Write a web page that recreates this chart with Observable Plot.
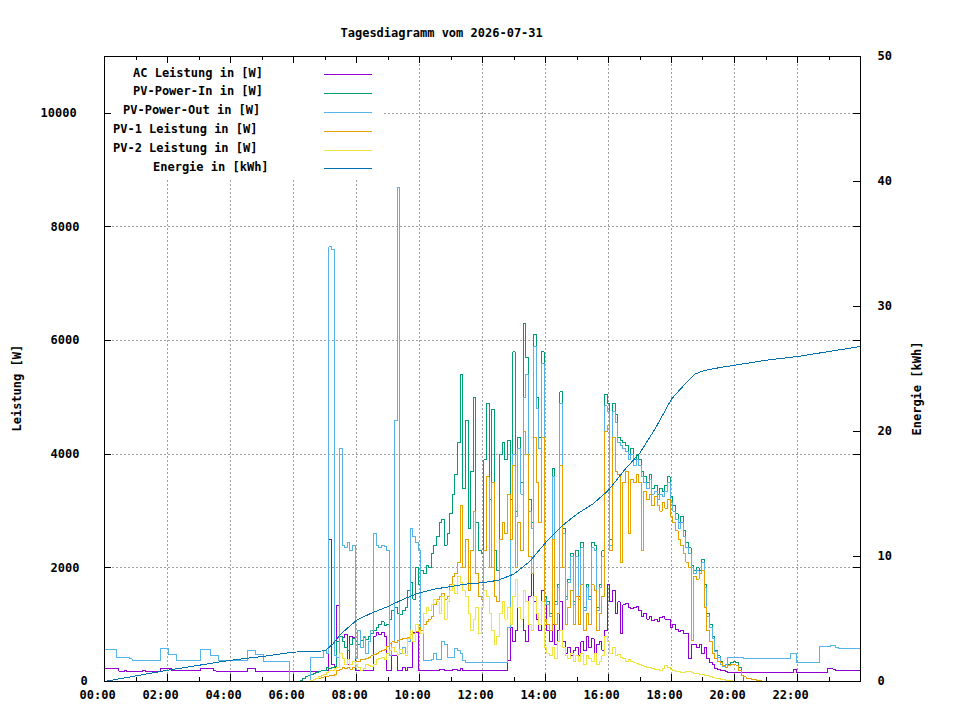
<!DOCTYPE html>
<html><head><meta charset="utf-8">
<script src="https://cdn.jsdelivr.net/npm/d3@7"></script>
<script src="https://cdn.jsdelivr.net/npm/@observablehq/plot@0.6"></script>
<style>body{margin:0;background:#fff;}</style>
</head><body><div id="chart"></div>
<script>
const chartTitle = "Tagesdiagramm vom 2026-07-31";
const leftLabel = "Leistung [W]";
const rightLabel = "Energie [kWh]";
const seriesNames = ["AC Leistung in [W]", "PV-Power-In in [W]", "PV-Power-Out in [W]", "PV-1 Leistung in [W]", "PV-2 Leistung in [W]", "Energie in [kWh]"];
const seriesColors = ["#9400d3", "#009e73", "#56b4e9", "#e69f00", "#f0e442", "#0072b2"];
const stepMinutes = 5;

// one row per hour, 12 samples (every 5 minutes) + final value at 24:00
const acPower = [
230,230,230,230,230,230,180,180,190,180,180,180,
180,180,180,190,180,180,180,180,180,180,230,230,
230,230,200,190,190,190,190,190,190,190,190,190,
190,230,230,230,230,230,190,180,180,180,180,180,
180,180,180,180,180,180,180,230,230,230,180,180,
180,180,180,180,180,180,180,180,180,180,180,180,
180,180,180,180,180,180,180,180,180,180,180,190,
190,190,2500,300,250,1340,800,780,820,300,800,780,
200,190,190,200,190,190,200,800,860,830,860,800,
190,190,450,450,200,190,250,190,250,250,860,860,
190,190,190,190,190,190,190,190,220,220,190,190,
190,220,220,190,230,190,190,190,190,190,190,190,
190,190,190,190,190,190,190,190,190,190,370,950,
700,900,1300,1100,900,700,1500,1900,1400,1100,900,1600,
1500,900,700,1000,650,900,1400,700,500,600,450,550,
600,450,700,550,800,600,750,500,650,700,550,900,
1700,1400,1600,1200,1400,850,1350,1370,1300,1280,1300,1320,
1250,1150,1200,1100,1150,1080,1100,1050,1120,1150,1100,1100,
950,1000,920,880,900,850,850,400,650,660,600,660,
500,600,400,330,300,230,220,200,190,180,160,160,
160,160,160,160,160,160,160,160,160,160,160,160,
160,160,160,160,160,160,160,160,160,160,160,210,
160,160,160,160,160,160,160,160,160,160,160,160,
230,230,220,200,200,200,200,200,200,200,200,200,
200];

const pvIn = [
0,0,0,0,0,0,0,0,0,0,0,0,
0,0,0,0,0,0,0,0,0,0,0,0,
0,0,0,0,0,0,0,0,0,0,0,0,
0,0,0,0,0,0,0,0,0,0,0,0,
0,0,0,0,0,0,0,0,0,0,0,0,
0,0,0,0,0,0,0,0,0,0,0,0,
0,0,0,20,50,80,100,120,140,160,180,190,
200,250,230,250,260,700,800,700,600,550,650,750,
700,650,720,780,740,800,850,900,950,1000,1050,980,
1000,1100,1250,1300,1200,1180,1250,1300,1600,1750,1450,2000,
1700,1950,1900,2050,2000,2250,2400,2550,2800,2850,2400,2600,
2950,3300,3650,4200,5400,3400,4600,2700,3700,5000,2800,2300,
2250,3900,4900,3200,4780,2300,1950,4000,4200,3900,4250,3200,
5800,3000,4300,3500,6300,5700,3200,2800,6100,5000,4300,5800,
1500,1400,1200,3750,1400,1700,5100,2700,1500,1800,2250,1400,
2300,1500,2450,1300,1700,1500,2450,2400,1300,1700,2300,5050,
4900,2500,4900,4700,4300,4250,4200,4150,4000,4100,3900,4000,
3900,3700,3600,3500,3650,3400,3450,3300,3400,3350,3450,3600,
3250,3100,2950,2800,2900,2650,2450,2350,2050,1950,2000,1950,
2150,1700,1200,1000,800,550,450,350,280,250,300,330,
350,340,250,100,0,0,0,0,0,0,0,0,
0,0,0,0,0,0,0,0,0,0,0,0,
0,0,0,0,0,0,0,0,0,0,0,0,
0,0,0,0,0,0,0,0,0,0,0,0,
0];

const pvOut = [
560,560,560,560,560,430,430,430,430,420,400,370,
370,370,370,370,370,370,370,370,370,370,580,580,
580,470,470,470,370,370,370,370,370,370,370,370,
370,560,560,560,560,460,460,460,370,370,370,370,
370,370,370,370,370,370,370,550,550,550,470,470,
470,350,350,350,350,350,350,350,350,350,350,0,
0,0,0,0,0,0,0,420,420,420,420,420,
550,500,7650,7600,450,420,4100,2400,2350,2450,2300,2400,
400,900,600,800,500,700,900,2600,2400,2350,2400,2380,
2300,450,700,4600,8700,500,600,450,700,2700,2550,2450,
2300,900,370,370,370,380,490,380,380,700,650,420,
420,420,580,540,490,370,340,340,340,340,340,340,
340,340,340,340,340,340,340,340,340,340,950,2500,
4000,2900,4100,3300,5000,5400,3000,2700,5900,4800,4100,5600,
1450,1350,1150,3600,1350,1650,4900,2600,1450,1750,2200,1350,
2200,1450,2350,1250,1650,1450,2350,2300,1250,1650,2200,4850,
4750,2400,4750,4550,4200,4150,4100,4050,3900,4000,3800,3900,
3800,3600,3500,3400,3550,3300,3350,3200,3300,3250,3350,3500,
3150,3000,2850,2700,2800,2550,2350,2250,2000,1900,1950,1900,
2100,1650,1150,950,750,520,430,300,260,300,420,420,
430,430,420,420,410,410,410,410,410,410,410,410,
400,400,400,400,400,400,400,400,400,400,490,490,
340,340,340,340,340,340,340,340,340,610,610,610,
610,640,640,600,580,580,580,580,580,580,580,580,
580];

const pv1 = [
0,0,0,0,0,0,0,0,0,0,0,0,
0,0,0,0,0,0,0,0,0,0,0,0,
0,0,0,0,0,0,0,0,0,0,0,0,
0,0,0,0,0,0,0,0,0,0,0,0,
0,0,0,0,0,0,0,0,0,0,0,0,
0,0,0,0,0,0,0,0,0,0,0,0,
0,0,0,0,0,0,0,20,40,50,60,70,
80,90,100,110,120,190,220,250,230,240,220,250,
350,360,380,390,400,420,450,480,500,520,540,560,
620,670,700,680,720,740,760,750,780,820,850,880,
950,900,1000,1050,1100,1150,1350,1450,1500,1550,1450,1500,
1700,1850,1900,2100,3100,2000,2500,1600,2300,3000,1900,1500,
1450,2300,3600,2000,3500,1500,1400,2500,2800,2600,3300,2500,
3800,2000,2800,2300,4400,4000,2200,1900,4300,3500,2800,4300,
1100,1000,900,2500,1000,1200,3800,2000,1000,1300,1600,1000,
1500,1000,1700,900,1200,1000,1700,1600,900,1200,1500,4400,
4500,2300,4300,3700,3650,2100,3500,3700,2600,3550,3500,3650,
3500,2300,3350,3200,3300,3100,3250,3100,3000,3150,3050,3200,
2900,2800,2650,2500,2400,2250,2100,2000,720,1850,1800,1900,
1950,1300,900,700,500,400,350,330,280,250,280,300,
300,290,200,100,80,60,50,40,30,20,10,0,
0,0,0,0,0,0,0,0,0,0,0,0,
0,0,0,0,0,0,0,0,0,0,0,0,
0,0,0,0,0,0,0,0,0,0,0,0,
0];

const pv2 = [
0,0,0,0,0,0,0,0,0,0,0,0,
0,0,0,0,0,0,0,0,0,0,0,0,
0,0,0,0,0,0,0,0,0,0,0,0,
0,0,0,0,0,0,0,0,0,0,0,0,
0,0,0,0,0,0,0,0,0,0,0,0,
0,0,0,0,0,0,0,0,0,0,0,0,
0,0,0,0,0,0,0,20,40,60,80,100,
120,150,190,200,230,250,500,400,300,380,300,350,
300,250,200,230,300,280,260,300,380,400,420,380,
500,550,600,520,480,560,500,450,750,900,700,1000,
900,850,1200,1300,1250,1350,1450,1400,1200,1500,1100,1400,
1600,1700,1550,1850,1750,1600,1500,1200,900,1100,1300,850,
1300,1600,1500,1200,900,650,800,1200,1400,1100,1300,1000,
1500,1800,1300,1100,1600,1400,1000,900,1500,1200,1000,1400,
600,500,450,600,400,700,900,600,450,400,500,350,
450,350,500,300,450,400,350,500,300,350,450,800,
700,500,600,450,480,430,400,350,380,350,330,320,
300,280,260,250,240,230,210,220,200,230,290,250,
220,200,180,170,160,150,180,170,150,140,140,130,
130,110,100,90,70,60,50,40,30,20,15,10,
0,0,0,0,0,0,0,0,0,0,0,0,
0,0,0,0,0,0,0,0,0,0,0,0,
0,0,0,0,0,0,0,0,0,0,0,0,
0,0,0,0,0,0,0,0,0,0,0,0,
0];

const energyHour = [0,1,2,3,4,5,6,7,7.25,7.5,8,8.5,9,9.5,10,10.5,11,11.5,12,12.5,13,13.5,14,14.5,15,15.5,16,16.5,17,17.5,18,18.5,18.75,19,19.5,20,21,22,23,24];
const energyKWh  = [0,0.45,0.9,1.3,1.7,2.0,2.35,2.45,3.0,3.8,4.9,5.5,6.0,6.6,7.1,7.4,7.6,7.8,7.9,8.1,8.6,9.6,11.1,12.4,13.4,14.2,15.3,16.9,18.3,20.3,22.6,24.0,24.6,24.85,25.1,25.3,25.7,26.0,26.4,26.8];

const timeLabelMinutes = [0,120,240,360,480,600,720,840,960,1080,1200,1320];
const gridMinutes = [120,240,360,480,600,720,840,960,1080,1200,1320,1440];
const powerTicks = [0,2000,4000,6000,8000,10000];
const energyTicks = [0,10,20,30,40,50];
const powerMax = 11000, energyMax = 50;
const energyFactor = powerMax / energyMax;

const font = {fontFamily: "DejaVu Sans Mono", fontSize: 12, fontWeight: "bold", fill: "black"};
const rows = vals => vals.map((v, i) => ({t: i * stepMinutes, v}));
const energyRows = energyHour.map((h, i) => ({t: h * 60, v: energyKWh[i] * energyFactor}));
const fmtTime = m => String(Math.floor(m / 60)).padStart(2, "0") + ":" + String(m % 60).padStart(2, "0");

function frameTicks(index, scales, values, dims) {
  const {x, y} = scales;
  const L = dims.marginLeft, R = dims.width - dims.marginRight, T = dims.marginTop, B = dims.height - dims.marginBottom;
  const g = d3.create("svg:g").attr("stroke", "black").attr("stroke-width", 1).attr("shape-rendering", "crispEdges");
  const line = (x1, y1, x2, y2) => g.append("line").attr("x1", x1).attr("y1", y1).attr("x2", x2).attr("y2", y2);
  for (let m = 60; m < 1440; m += 60) {
    const len = m % 120 === 0 ? 7 : 4;
    const px = Math.round(x(m)) + 0.5;
    line(px, B, px, B - len);
    line(px, T, px, T + len);
  }
  for (const v of powerTicks) {
    const py = Math.round(y(v)) + 0.5;
    line(L, py, L + 7, py);
    line(R, py, R - 7, py);
  }
  for (const e of energyTicks) {
    const py = Math.round(y(e * energyFactor)) + 0.5;
    line(R, py, R - 7, py);
  }
  return g.node();
}

function legend(index, scales, values, dims) {
  const L = dims.marginLeft, T = dims.marginTop;
  const g = d3.create("svg:g");
  g.append("rect").attr("x", L + 1).attr("y", T + 1).attr("width", 278).attr("height", 123).attr("fill", "white");
  seriesNames.forEach((name, i) => {
    const yb = T + 20.5 + i * 18.8;
    g.append("text").attr("x", L + 209 - 10 * name.length).attr("y", yb)
      .attr("text-anchor", "start")
      .attr("font-family", font.fontFamily).attr("font-size", 12).attr("font-weight", "bold")
      .attr("fill", "black").style("white-space", "pre").text(name);
    const ly = Math.round(yb - 2.2) + 0.5;
    g.append("line").attr("x1", L + 220).attr("x2", L + 268).attr("y1", ly).attr("y2", ly)
      .attr("stroke", seriesColors[i]).attr("stroke-width", 1).attr("shape-rendering", "crispEdges");
  });
  return g.node();
}

const lineOpts = (c, curve = "step") => ({x: "t", y: "v", stroke: c, strokeWidth: 1, curve, shapeRendering: "crispEdges"});

const leftTickLabels = powerTicks.map(v => Plot.text([v], {
  y: d => d, text: d => String(d), frameAnchor: "left", textAnchor: "start",
  dx: -14 - 10 * String(v).length, ...font
}));

const chart = Plot.plot({
  width: 960, height: 720,
  marginLeft: 104, marginRight: 100, marginTop: 56, marginBottom: 39,
  x: {domain: [0, 1440], axis: null},
  y: {domain: [0, powerMax], axis: null},
  style: {background: "white"},
  marks: [
    Plot.ruleX(gridMinutes, {x: d => d, stroke: "#a0a0a0", strokeDasharray: "2,2", strokeWidth: 1, shapeRendering: "crispEdges"}),
    Plot.ruleY(powerTicks.filter(v => v > 0), {y: d => d, stroke: "#a0a0a0", strokeDasharray: "2,2", strokeWidth: 1, shapeRendering: "crispEdges"}),
    Plot.line(rows(acPower), lineOpts(seriesColors[0])),
    Plot.line(rows(pvIn), lineOpts(seriesColors[1])),
    Plot.line(rows(pvOut), lineOpts(seriesColors[2])),
    Plot.line(rows(pv1), lineOpts(seriesColors[3])),
    Plot.line(rows(pv2), lineOpts(seriesColors[4])),
    Plot.line(energyRows, lineOpts(seriesColors[5], "linear")),
    legend,
    Plot.frame({stroke: "black", strokeWidth: 1, shapeRendering: "crispEdges"}),
    frameTicks,
    Plot.text(timeLabelMinutes, {x: d => d, text: fmtTime, frameAnchor: "bottom", dy: 17, dx: -25, textAnchor: "start", ...font}),
    ...leftTickLabels,
    Plot.text(energyTicks, {y: d => d * energyFactor, text: d => String(d), frameAnchor: "right", dx: 17, textAnchor: "start", ...font}),
    Plot.text([chartTitle], {text: d => d, frameAnchor: "top-left", dx: 236, dy: -28.5, textAnchor: "start", ...font}),
    Plot.text([leftLabel], {text: d => d, frameAnchor: "left", dx: -87, dy: 62.5, rotate: -90, textAnchor: "start", ...font}),
    Plot.text([rightLabel], {text: d => d, frameAnchor: "right", dx: 57, dy: 66.5, rotate: -90, textAnchor: "start", ...font})
  ]
});
document.getElementById("chart").appendChild(chart);
</script>
</body></html>
